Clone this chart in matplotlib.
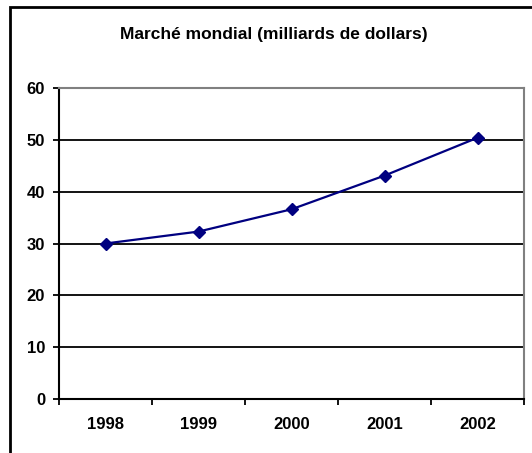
import numpy as np
import matplotlib.pyplot as plt
from matplotlib.patches import Rectangle

plt.rcParams['font.family'] = ['Liberation Sans', 'DejaVu Sans']

annees = ['1998', '1999', '2000', '2001', '2002']
marche = [30.0, 32.3, 36.6, 43.1, 50.4]
titre = 'Marché mondial (milliards de dollars)'

fig = plt.figure(figsize=(5.32, 4.53), dpi=100)

# cadre du graphique (coupe a droite et en bas)
fig.patches.append(Rectangle((10 / 532, -0.05), 1.2, (453 - 7) / 453 + 0.05,
                             transform=fig.transFigure, fill=False,
                             edgecolor='black', lw=2, zorder=0))

ax = fig.add_axes([59 / 532, 54 / 453, 465 / 532, 311 / 453])
x = np.arange(len(annees))

for v in range(10, 60, 10):
    ax.axhline(v, color='black', lw=1.3, zorder=1)

ax.plot(x, marche, color='#000080', lw=1.6, marker='D', markersize=6.5, zorder=3)

ax.set_xlim(-0.5, len(annees) - 0.5)
ax.set_ylim(0, 60)
ax.set_yticks(range(0, 61, 10))
ax.set_xticks(np.arange(-0.5, len(annees), 1.0))
ax.set_xticklabels([])
ax.set_xticks(x, minor=True)
ax.set_xticklabels(annees, minor=True, fontsize=12, fontweight='bold')
ax.tick_params(axis='x', which='minor', length=0, pad=13)
ax.tick_params(axis='x', which='major', length=4, width=1.3, direction='out')
ax.tick_params(axis='y', length=4, width=1.3, direction='out', labelsize=12, pad=6)
for lab in ax.get_yticklabels():
    lab.set_fontweight('bold')

ax.spines['left'].set_linewidth(1.5)
ax.spines['bottom'].set_linewidth(1.5)
ax.spines['top'].set_color('#808080')
ax.spines['right'].set_color('#808080')
ax.spines['top'].set_linewidth(1.5)
ax.spines['right'].set_linewidth(1.5)

fig.text(274 / 532, 1 - 34 / 453, titre, ha='center', va='center',
         fontsize=12.5, fontweight='bold')

fig.savefig('out.png', dpi=100)
